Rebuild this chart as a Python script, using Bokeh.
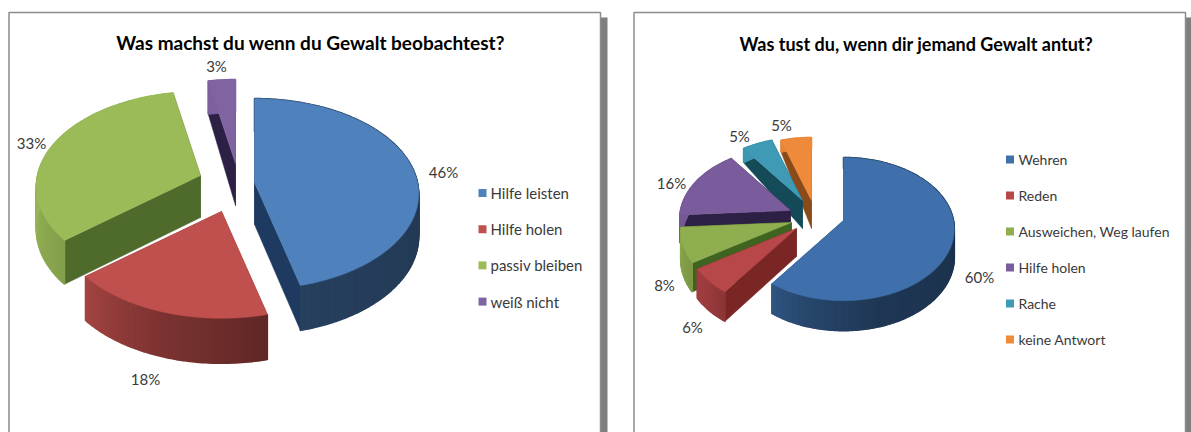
from math import sin, cos, radians
import numpy as np
from bokeh.plotting import figure
from bokeh.models import Range1d
from bokeh.core.properties import value
from bokeh.embed import file_html
from bokeh.resources import INLINE

# ---- data ----
title_a = "Was machst du wenn du Gewalt beobachtest?"
cats_a = ["Hilfe leisten", "Hilfe holen", "passiv bleiben", "weiß nicht"]
vals_a = [46, 18, 33, 3]
title_b = "Was tust du, wenn dir jemand Gewalt antut?"
cats_b = ["Wehren", "Reden", "Ausweichen, Weg laufen", "Hilfe holen", "Rache", "keine Antwort"]
vals_b = [60, 6, 8, 16, 5, 5]

# ---- style / layout ----
FONT = "Lato"
TXT = "#3a3a3a"
fill_a = ["#4f81bd", "#c0504d", "#9bbb59", "#8064a2"]
cut_a = ["#1f3a60", "#7a2624", "#4f6b2c", "#2d2045"]
fill_b = ["#3f70ab", "#b8474a", "#8fae50", "#7a5c9c", "#3f9bb5", "#ee8a3a"]
cut_b = ["#1f3a60", "#7a2624", "#3f6420", "#2d2045", "#154a58", "#8a4a1a"]
apex_a = [(254, 182), (221, 211), (200, 175), (235, 163)]
apex_b = [(843, 220), (796, 228), (791, 222), (790, 210), (802, 200), (811, 200)]
order_a = [3, 2, 1, 0]
order_b = [5, 4, 3, 2, 1, 0]
shape_a = dict(a=163, b=94, t=0.12, front=45, mid=42, far=33)
shape_b = dict(a=110, b=70.6, t=0.12, front=30, mid=28, far=11)
lab_a = [(443, 171), (145, 378), (31, 142), (216, 65)]
lab_b = [(979, 276), (692, 326), (664, 284), (671, 182), (739, 135), (781, 124)]
leg_a = dict(sx=482, tx=490, y0=192.5, dy=36.2, size="15px")
leg_b = dict(sx=1009.5, tx=1018, y0=159, dy=36, size="14px")

W, H = 1191, 432
p = figure(width=W, height=H, output_backend="svg", toolbar_location=None,
           x_range=Range1d(0, W), y_range=Range1d(H, 0),
           min_border=0, outline_line_color=None, background_fill_color="white",
           border_fill_color="white")
p.xaxis.visible = False
p.yaxis.visible = False
p.grid.visible = False


def panel(x0, x1, y0, y1):
    p.quad(left=[x0 + 5], right=[x1 + 7], top=[y0 + 5], bottom=[y1 + 4],
           fill_color="#7f7f7f", line_color=None)
    p.quad(left=[x0 + .5], right=[x1], top=[y0], bottom=[y1 + 4],
           fill_color="white", line_color="#8c8c8c", line_width=1.5)


def project(angle, sh):
    r = radians(angle)
    u, v = sin(r), cos(r)
    w = 1 + sh["t"] * v
    d = np.interp(v, [-1, 0, 1], [sh["front"], sh["mid"], sh["far"]])
    return sh["a"] * u / w, -sh["b"] * v / w, d


def shade(hexc, f):
    c = np.array([int(hexc[i:i + 2], 16) for i in (1, 3, 5)]) * f
    return "#%02x%02x%02x" % tuple(int(min(255, x)) for x in c)


def pie(vals, fills, cuts, apexes, order, sh):
    total = sum(vals)
    edges = np.concatenate([[0], np.cumsum(vals)]) / total * 360
    for i in order:
        ax, ay = apexes[i]
        a0, a1 = edges[i], edges[i + 1]
        n = max(3, int(a1 - a0))
        ang = np.linspace(a0, a1, n + 1)
        pts = [project(a, sh) for a in ang]
        xs = [ax + q[0] for q in pts]
        ys = [ay + q[1] for q in pts]
        ds = [q[2] for q in pts]
        dm = sh["mid"]
        # cut faces
        for ex, ey, ed in ((xs[0], ys[0], ds[0]), (xs[-1], ys[-1], ds[-1])):
            p.patch([ax, ex, ex, ax], [ay, ey, ey + ed, ay + dm],
                    fill_color=cuts[i], line_color=cuts[i], line_width=0.5)
        # outer wall, shaded along the rim
        qx, qy, qc = [], [], []
        for j in range(n):
            mid = (ang[j] + ang[j + 1]) / 2
            f = np.interp(mid, [60, 165, 200, 230, 270], [.42, .5, .65, .85, .97])
            qx.append([xs[j], xs[j + 1], xs[j + 1], xs[j]])
            qy.append([ys[j], ys[j + 1], ys[j + 1] + ds[j + 1], ys[j] + ds[j]])
            qc.append(shade(fills[i], f))
        p.patches(qx, qy, fill_color=qc, line_color=qc, line_width=1.5)
        # top face
        p.patch([ax] + xs, [ay] + ys, fill_color=fills[i], line_color=fills[i], line_width=0.5)


def texts(x, y, t, size, align="center", color=TXT, style="normal"):
    p.text(x=x, y=y, text=t, text_font=value(FONT), text_font_size=size,
           text_align=align, text_baseline="middle", text_color=color, text_font_style=style)


def legend(cats, fills, lg):
    ys = [lg["y0"] + k * lg["dy"] for k in range(len(cats))]
    p.rect(x=[lg["sx"]] * len(cats), y=ys, width=8, height=8, fill_color=fills, line_color=None)
    texts([lg["tx"]] * len(cats), ys, cats, lg["size"], "left")


panel(8, 600, 12, H)
panel(633, 1185, 12, H)
pie(vals_a, fill_a, cut_a, apex_a, order_a, shape_a)
pie(vals_b, fill_b, cut_b, apex_b, order_b, shape_b)
texts([310], [42], [title_a], "19px", color="#000000", style="bold")
texts([916], [43], [title_b], "18px", color="#000000", style="bold")
texts([q[0] for q in lab_a], [q[1] for q in lab_a], [f"{v}%" for v in vals_a], "15px")
texts([q[0] for q in lab_b], [q[1] for q in lab_b], [f"{v}%" for v in vals_b], "15px")
legend(cats_a, fill_a, leg_a)
legend(cats_b, fill_b, leg_b)

open("out.html", "w").write(file_html(p, INLINE))
